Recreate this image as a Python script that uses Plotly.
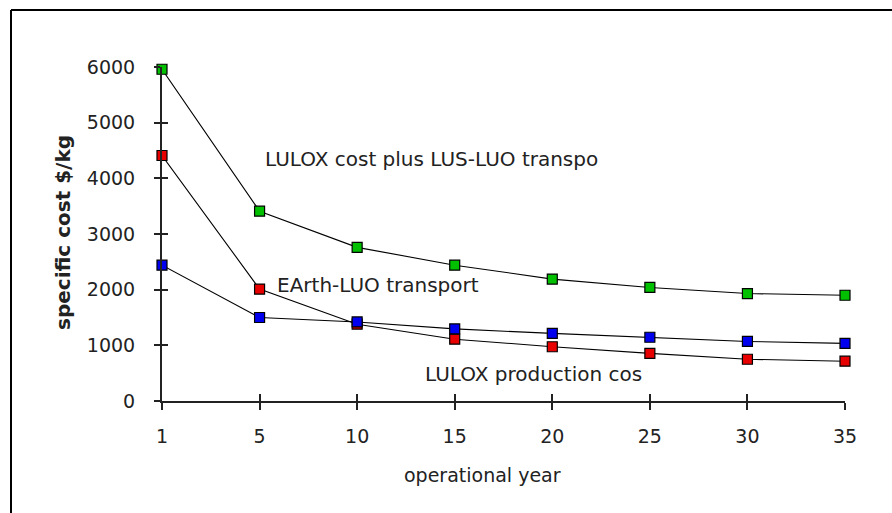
import plotly.graph_objects as go

# Operational years (evenly spaced categories on the x axis)
years = ["1", "5", "10", "15", "20", "25", "30", "35"]

# Specific cost in $/kg per series
lulox_plus_transport = [5960, 3410, 2760, 2440, 2190, 2040, 1930, 1900]
earth_luo_transport = [4410, 2010, 1380, 1110, 975, 855, 750, 715]
lulox_production = [2440, 1500, 1420, 1295, 1215, 1145, 1070, 1035]

y_ticks = [0, 1000, 2000, 3000, 4000, 5000, 6000]

W, H = 892, 513
L, R, T, B = 162, 845, 67, 401  # plot area edges in pixels


def px(xp):
    return (xp - L) / (R - L)


def py(yp):
    return (B - yp) / (B - T)


FONT = "DejaVu Sans"
INK = "#222"

fig = go.Figure()

series = [
    (lulox_plus_transport, "#00c000"),
    (earth_luo_transport, "#e80000"),
    (lulox_production, "#0000ee"),
]
for vals, col in series:
    fig.add_trace(go.Scatter(
        x=years, y=vals, mode="lines+markers",
        line=dict(color="black", width=1.1),
        marker=dict(symbol="square", size=10, color=col,
                    line=dict(color="black", width=1.2)),
        cliponaxis=False, showlegend=False, hoverinfo="skip",
    ))

# Overlay axes carry the inner half of the crossing tick marks
fig.add_trace(go.Scatter(
    x=years, y=lulox_production, xaxis="x2", yaxis="y2", mode="markers",
    marker=dict(opacity=0), showlegend=False, hoverinfo="skip",
))

axis_common = dict(showgrid=False, zeroline=False, linecolor=INK,
                   linewidth=2, tickcolor=INK, tickwidth=1.5,
                   tickfont=dict(family=FONT, size=19, color=INK))
inner_common = dict(showgrid=False, zeroline=False, showline=False,
                    showticklabels=False, ticks="inside", tickcolor=INK,
                    tickwidth=1.5)

fig.update_layout(
    width=W, height=H,
    margin=dict(l=L, r=W - R, t=T, b=H - B, pad=0),
    paper_bgcolor="white", plot_bgcolor="white",
    xaxis=dict(type="category", categoryorder="array", categoryarray=years,
               range=[0, len(years) - 1], ticks="outside", ticklen=7,
               showline=True, ticklabelstandoff=10, **axis_common),
    yaxis=dict(range=[0, 6000], tickvals=y_ticks, ticks="outside", ticklen=6,
               showline=True, ticklabelstandoff=15, **axis_common),
    xaxis2=dict(type="category", categoryorder="array", categoryarray=years,
                range=[0, len(years) - 1], overlaying="x", anchor="y2",
                ticklen=7, **inner_common),
    yaxis2=dict(range=[0, 6000], tickvals=y_ticks, overlaying="y",
                anchor="x2", side="left", ticklen=6, **inner_common),
)

ann_font = dict(family=FONT, size=20, color=INK)
fig.add_annotation(text="LULOX cost plus LUS-LUO transpo", xref="paper",
                   yref="paper", x=px(263), y=py(159), xanchor="left",
                   yanchor="middle", showarrow=False, font=ann_font)
fig.add_annotation(text="EArth-LUO transport", xref="paper", yref="paper",
                   x=px(275), y=py(285), xanchor="left", yanchor="middle",
                   showarrow=False, font=ann_font)
fig.add_annotation(text="LULOX production cos", xref="paper", yref="paper",
                   x=px(423), y=py(374), xanchor="left", yanchor="middle",
                   showarrow=False, font=ann_font)
fig.add_annotation(text="operational year", xref="paper", yref="paper",
                   x=px(482), y=py(475), xanchor="center", yanchor="middle",
                   showarrow=False, font=dict(family=FONT, size=19, color=INK))
fig.add_annotation(text="<b>specific cost $/kg</b>", xref="paper",
                   yref="paper", x=px(63), y=py(233), xanchor="center",
                   yanchor="middle", textangle=-90, showarrow=False,
                   font=dict(family=FONT, size=20, color=INK))

# Outer frame: left and top edges of the chart border
fig.add_shape(type="line", xref="paper", yref="paper", x0=px(11), x1=px(11),
              y0=py(H + 20), y1=py(10), line=dict(color="black", width=2))
fig.add_shape(type="line", xref="paper", yref="paper", x0=px(11),
              x1=px(W + 20), y0=py(10), y1=py(10),
              line=dict(color="black", width=2))

fig.write_html("out.html")
